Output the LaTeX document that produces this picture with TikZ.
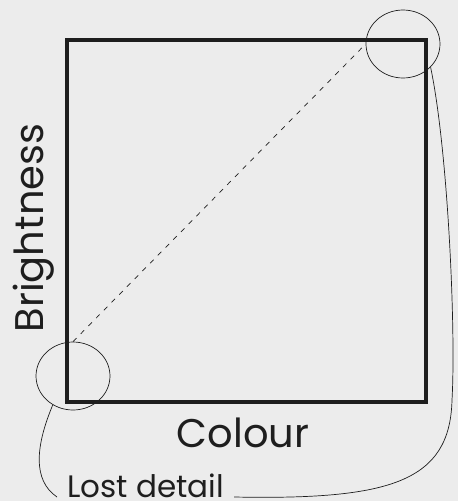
\documentclass[tikz,border=0pt]{standalone}
\usepackage{fontspec}
\setmainfont{Poppins}
\usetikzlibrary{shapes.geometric}
\definecolor{paper}{RGB}{236,236,236}
\definecolor{ink}{RGB}{30,30,30}
\begin{document}
\begin{tikzpicture}[x=1pt, y=-1pt, ink,
  frame/.style={draw, line width=3.2pt, minimum width=359pt, minimum height=362pt, inner sep=0pt},
  lens/.style={draw, ellipse, line width=0.7pt, minimum width=74pt, minimum height=68pt, inner sep=0pt},
  axislabel/.style={font=\fontsize{40}{44}\selectfont, inner sep=0pt},
  note/.style={font=\fontsize{31}{34}\selectfont, inner xsep=10pt, inner ysep=0pt},
  leader/.style={line width=0.7pt}]
\useasboundingbox[fill=paper] (0,0) rectangle (458,501);
\node[frame] (plot) at (246.5,221) {};
\node[lens] (low) at (73,376) {};
\node[lens] (high) at (403,44) {};
\node[axislabel, anchor=base] (colour) at (243,447) {Colour};
\node[axislabel, anchor=base, rotate=90] (bright) at (43,228) {Brightness};
\node[note, anchor=base west] (lost) at (57,497) {Lost detail};
% diagonal between the two corners
\draw[line width=0.7pt, dash pattern=on 5pt off 6pt] (low.north) -- (high.west);
% leaders from the note to the circles
\draw[leader] (low.235) .. controls (36,445) and (32,480) .. (lost.base west);
\draw[leader] (lost.base east) .. controls (390,500) and (450,482) .. (452,400)
  .. controls (456,330) and (448,150) .. (high.-40);
\end{tikzpicture}
\end{document}
